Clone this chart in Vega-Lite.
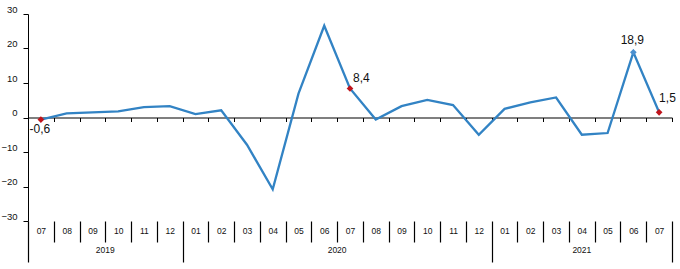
{
  "$schema": "https://vega.github.io/schema/vega-lite/v6.json",
  "width": 644,
  "height": 207,
  "autosize": {"type": "none"},
  "padding": {"left": 28, "top": 14, "right": 8, "bottom": 48},
  "background": "white",
  "config": {
    "view": {"stroke": null},
    "font": "Liberation Sans",
    "axis": {"labelFont": "Liberation Sans", "labelColor": "#111", "domainColor": "#000", "tickColor": "#000", "grid": false, "title": null}
  },
  "data": {
    "values": [
      {"ym": "2019-07", "value": -0.6, "label": "-0,6"},
      {"ym": "2019-08", "value": 1.2},
      {"ym": "2019-09", "value": 1.5},
      {"ym": "2019-10", "value": 1.8},
      {"ym": "2019-11", "value": 3.0},
      {"ym": "2019-12", "value": 3.3},
      {"ym": "2020-01", "value": 1.0},
      {"ym": "2020-02", "value": 2.1},
      {"ym": "2020-03", "value": -7.9},
      {"ym": "2020-04", "value": -20.8},
      {"ym": "2020-05", "value": 6.9},
      {"ym": "2020-06", "value": 26.6},
      {"ym": "2020-07", "value": 8.4, "label": "8,4"},
      {"ym": "2020-08", "value": -0.6},
      {"ym": "2020-09", "value": 3.3},
      {"ym": "2020-10", "value": 5.1},
      {"ym": "2020-11", "value": 3.6},
      {"ym": "2020-12", "value": -5.0},
      {"ym": "2021-01", "value": 2.5},
      {"ym": "2021-02", "value": 4.4},
      {"ym": "2021-03", "value": 5.8},
      {"ym": "2021-04", "value": -5.0},
      {"ym": "2021-05", "value": -4.5},
      {"ym": "2021-06", "value": 18.9, "label": "18,9"},
      {"ym": "2021-07", "value": 1.5, "label": "1,5"}
    ]
  },
  "encoding": {
    "x": {"field": "ym", "type": "ordinal", "sort": null, "scale": {"type": "band", "paddingInner": 0, "paddingOuter": 0}},
    "y": {
      "field": "value", "type": "quantitative",
      "scale": {"domain": [-30, 30], "nice": false, "zero": false},
      "axis": {"values": [-30, -20, -10, 0, 10, 20, 30], "tickSize": 5, "labelPadding": 6, "labelFontSize": 9.5, "labelBaseline": "alphabetic", "labelOffset": -2, "domainWidth": 1}
    }
  },
  "resolve": {"axis": {"x": "independent"}},
  "layer": [
    {
      "mark": {"type": "line", "color": "#3283C4", "strokeWidth": 2.3},
      "encoding": {
        "x": {"field": "ym", "type": "ordinal", "sort": null, "axis": {"orient": "bottom", "offset": -103.5, "labels": false, "tickBand": "extent", "tickSize": 4, "domain": true, "domainWidth": 1.2}}
      }
    },
    {
      "transform": [{"filter": "slice(datum.ym, 5) == '07'"}],
      "mark": {"type": "point", "shape": "diamond", "filled": true, "color": "#C0141C", "size": 45, "opacity": 1},
      "encoding": {"x": {"field": "ym", "type": "ordinal", "sort": null, "axis": null}}
    },
    {
      "transform": [{"filter": "datum.ym == '2021-06'"}],
      "mark": {"type": "point", "shape": "diamond", "filled": true, "color": "#4A90D0", "size": 45, "opacity": 1},
      "encoding": {"x": {"field": "ym", "type": "ordinal", "sort": null, "axis": null}}
    },
    {
      "transform": [{"filter": "datum.ym == '2019-07'"}],
      "mark": {"type": "text", "align": "center", "baseline": "top", "dx": -1, "dy": 4, "fontSize": 12, "color": "#111"},
      "encoding": {"x": {"field": "ym", "type": "ordinal", "sort": null, "axis": null}, "text": {"field": "label"}}
    },
    {
      "transform": [{"filter": "datum.ym == '2020-07'"}],
      "mark": {"type": "text", "align": "left", "baseline": "alphabetic", "dx": 3, "dy": -7, "fontSize": 12, "color": "#111"},
      "encoding": {"x": {"field": "ym", "type": "ordinal", "sort": null, "axis": null}, "text": {"field": "label"}}
    },
    {
      "transform": [{"filter": "datum.ym == '2021-06'"}],
      "mark": {"type": "text", "align": "center", "baseline": "alphabetic", "dx": -1, "dy": -8, "fontSize": 12, "color": "#111"},
      "encoding": {"x": {"field": "ym", "type": "ordinal", "sort": null, "axis": null}, "text": {"field": "label"}}
    },
    {
      "transform": [{"filter": "datum.ym == '2021-07'"}],
      "mark": {"type": "text", "align": "left", "baseline": "alphabetic", "dx": 0, "dy": -10, "fontSize": 12, "color": "#111"},
      "encoding": {"x": {"field": "ym", "type": "ordinal", "sort": null, "axis": null}, "text": {"field": "label"}}
    },
    {
      "mark": {"type": "point", "opacity": 0},
      "encoding": {
        "x": {"field": "ym", "type": "ordinal", "sort": null, "axis": {
          "orient": "bottom", "domain": false, "tickBand": "extent",
          "tickSize": {"condition": {"test": "!datum.value || datum.value == '2019-12' || datum.value == '2020-12' || datum.value == '2021-07'", "value": 41}, "value": 21},
          "labelPadding": {"condition": {"test": "!datum.value || datum.value == '2019-12' || datum.value == '2020-12' || datum.value == '2021-07'", "value": -36}, "value": -16},
          "tickWidth": 1.2,
          "labelExpr": "datum.value ? slice(datum.value, 5) : ''", "labelFontSize": 8.5, "labelAngle": 0
        }}
      }
    },
    {
      "mark": {"type": "point", "opacity": 0},
      "encoding": {
        "x": {"field": "ym", "type": "ordinal", "sort": null, "axis": {
          "orient": "bottom", "domain": false, "ticks": false,
          "values": ["2019-10", "2020-07", "2021-04"],
          "labelExpr": "datum.value ? slice(datum.value, 0, 4) : ''", "labelFontSize": 8.5, "labelPadding": 24, "labelAngle": 0,
          "labelOffset": {"condition": {"test": "datum.value == '2021-04'", "value": 0}, "value": -12.88}
        }}
      }
    }
  ]
}
